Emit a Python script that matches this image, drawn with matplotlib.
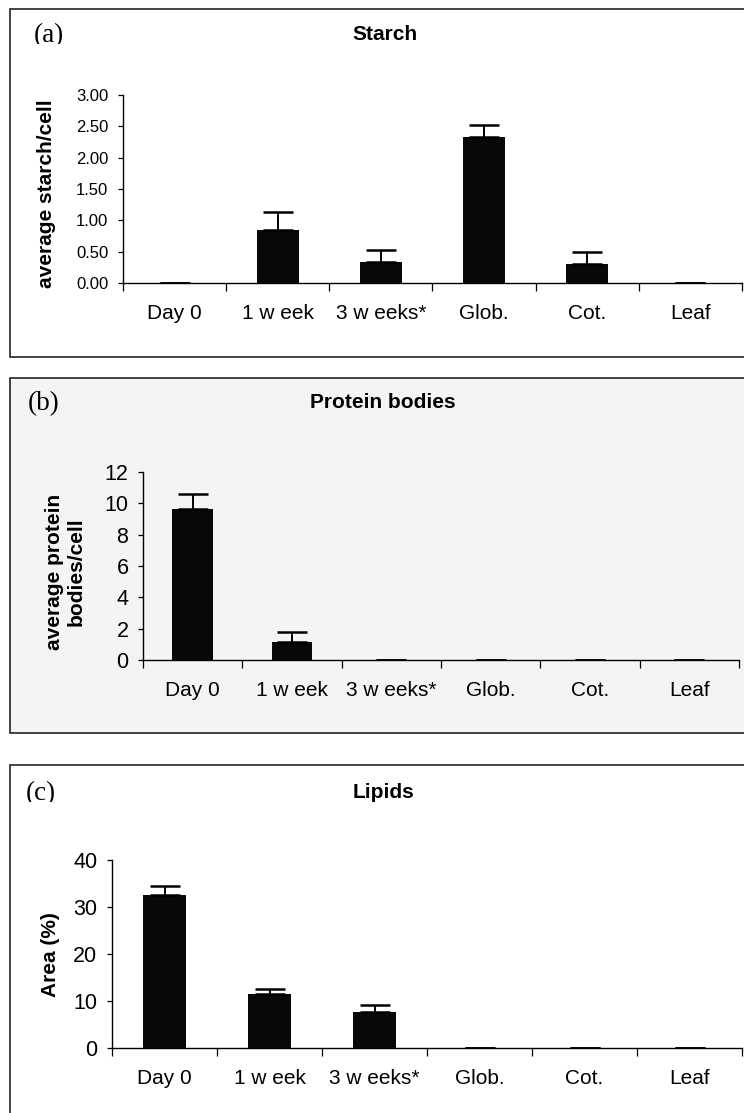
"""Three stacked bar panels: starch, protein bodies and lipids per stage."""
import matplotlib.pyplot as plt
import matplotlib.ticker as ticker
from matplotlib.patches import Rectangle
from matplotlib.transforms import Bbox

W, H = 744, 1113

categories = ["Day 0", "1 w eek", "3 w eeks*", "Glob.", "Cot.", "Leaf"]

starch_mean = [0.0, 0.85, 0.34, 2.33, 0.31, 0.0]
starch_err = [0.0, 0.29, 0.19, 0.19, 0.18, 0.0]

protein_mean = [9.63, 1.17, 0.0, 0.0, 0.0, 0.0]
protein_err = [0.98, 0.62, 0.0, 0.0, 0.0, 0.0]

lipid_mean = [32.5, 11.4, 7.6, 0.0, 0.0, 0.0]
lipid_err = [1.9, 1.2, 1.6, 0.0, 0.0, 0.0]

SANS = "Liberation Sans"
SERIF = "Liberation Serif"

plt.rcParams["font.family"] = SANS

fig = plt.figure(figsize=(W / 100, H / 100), dpi=100)


def px_rect(left, top, right, bottom):
    # pixel box (origin top-left) -> figure fraction rect
    return [left / W, 1 - bottom / H, (right - left) / W, (bottom - top) / H]


def frame(top, bottom, face):
    fig.patches.append(Rectangle((10 / W, 1 - bottom / H), 800 / W, (bottom - top) / H,
                                 transform=fig.transFigure, facecolor=face,
                                 edgecolor="#222222", linewidth=1.2, zorder=-5))


def panel(rect, means, errs, ymax, ystep, fmt, ytick_size):
    ax = fig.add_axes(rect, zorder=2)
    ax.set_facecolor("none")
    x = list(range(len(categories)))
    ax.bar(x, means, width=0.41, color="#080808", zorder=2)
    lower = [0] * len(errs)
    ax.errorbar(x, means, yerr=[lower, errs], fmt="none", ecolor="black",
                elinewidth=1.4, capsize=10.5, capthick=1.8, zorder=3)
    ax.set_xlim(-0.5, len(categories) - 0.5)
    ax.set_ylim(0, ymax)
    ax.yaxis.set_major_locator(ticker.MultipleLocator(ystep))
    ax.yaxis.set_major_formatter(ticker.FormatStrFormatter(fmt))
    ax.set_xticks(x)
    ax.set_xticklabels(categories)
    ax.set_xticks([i - 0.5 for i in range(len(categories) + 1)], minor=True)
    ax.tick_params(axis="x", which="major", length=0, pad=15, labelsize=15)
    ax.tick_params(axis="x", which="minor", length=6, width=0.9, direction="out")
    ax.tick_params(axis="y", length=3.5, width=0.9, pad=7, labelsize=ytick_size)
    for side in ("top", "right"):
        ax.spines[side].set_visible(False)
    for side in ("left", "bottom"):
        ax.spines[side].set_linewidth(1.0)
    return ax


def tag(text, x, y_base, clipped):
    t = fig.text(x / W, 1 - y_base / H, text, fontfamily=SERIF, fontsize=19.5,
                 ha="left", va="baseline")
    if clipped:
        # the panel letter is cut off just below its baseline
        t.set_clip_box(Bbox.from_extents(0, H - (y_base + 2), W, H - (y_base - 40)))
        t.set_clip_on(True)


# panel frames
frame(9, 357, "white")
frame(378, 733, "#f4f4f4")
frame(765, 1200, "white")

# (a) starch
panel(px_rect(123, 95, 742, 283), starch_mean, starch_err, 3, 0.5, "%.2f", 12)
fig.text(385 / W, 1 - 35 / H, "Starch", fontsize=15, fontweight="bold",
         ha="center", va="center")
fig.text(47 / W, 1 - 194 / H, "average starch/cell", fontsize=15,
         fontweight="bold", rotation=90, ha="center", va="center")
tag("(a)", 34, 42, True)

# (b) protein bodies
panel(px_rect(143, 472, 739, 660), protein_mean, protein_err, 12, 2, "%d", 15.5)
fig.text(383 / W, 1 - 403 / H, "Protein bodies", fontsize=15, fontweight="bold",
         ha="center", va="center")
fig.text(65 / W, 1 - 572 / H, "average protein\nbodies/cell", fontsize=15,
         fontweight="bold", rotation=90, ha="center", va="center",
         multialignment="center")
tag("(b)", 28, 410, False)

# (c) lipids
panel(px_rect(112, 860, 742, 1048), lipid_mean, lipid_err, 40, 10, "%d", 15.5)
fig.text(383 / W, 1 - 792 / H, "Lipids", fontsize=15, fontweight="bold",
         ha="center", va="center")
fig.text(50 / W, 1 - 955 / H, "Area (%)", fontsize=15, fontweight="bold",
         rotation=90, ha="center", va="center")
tag("(c)", 26, 800, True)

fig.savefig("out.png", dpi=100, facecolor="white")
